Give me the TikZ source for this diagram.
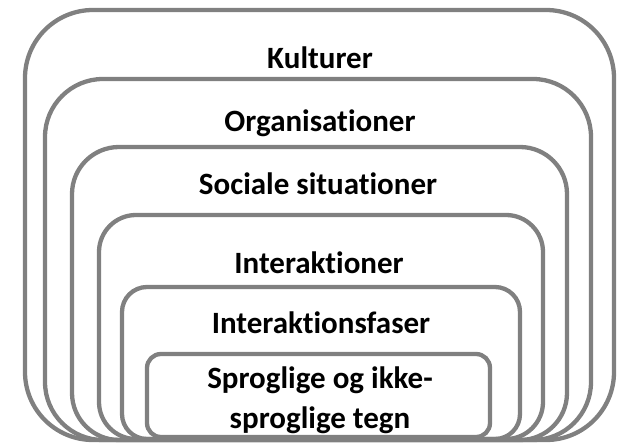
\documentclass[tikz,border=0pt]{standalone}
\usepackage{fontspec}
\setmainfont{Carlito}[RawFeature={-liga;-clig}]
\definecolor{layergray}{RGB}{128,128,128}

\begin{document}
\begin{tikzpicture}[x=1pt,y=-1pt]

\tikzset{
  layer box/.style={
    draw=layergray,
    line width=4.3pt,
  },
  layer label/.style={
    anchor=base,
    inner sep=0pt,
    font=\fontsize{31}{40}\selectfont\bfseries,
    text=black,
  }
}

\useasboundingbox (0,0) rectangle (623,443);

% Outer layers
\draw[layer box, rounded corners=68] (25,10) rectangle (614,440);
\draw[layer box, rounded corners=58] (45,79) rectangle (591,440);
\draw[layer box, rounded corners=47] (72,147) rectangle (567,440);

% Inner layers
\draw[layer box, rounded corners=37] (99,215) rectangle (543,439);
\draw[layer box, rounded corners=25] (122,287) rectangle (520,439);
\draw[layer box, rounded corners=14] (147,354) rectangle (490,437);

% Labels
\node[layer label] (kult) at (320,69)  {Kulturer};
\node[layer label] (org)  at (320,132) {Organisationer};
\node[layer label] (soc)  at (318,195) {Sociale situationer};
\node[layer label] (inter) at (319,273) {Interaktioner};
\node[layer label] (fase) at (321,333) {Interaktionsfaser};
\node[layer label] (tegn1) at (320,388) {Sproglige og ikke-};
\node[layer label] (tegn2) at (320,428) {sproglige tegn};

\end{tikzpicture}
\end{document}
